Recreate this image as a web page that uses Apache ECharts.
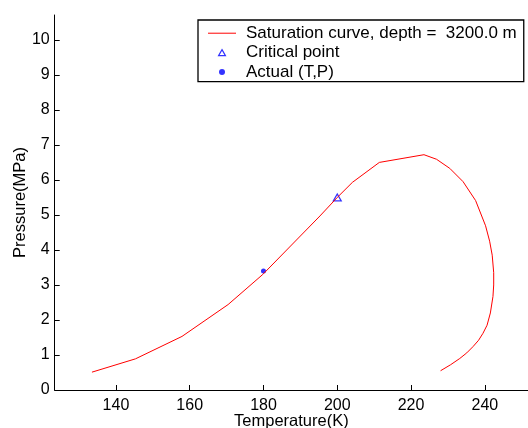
<!DOCTYPE html>
<html>
<head>
<meta charset="utf-8">
<script src="https://cdn.jsdelivr.net/npm/echarts@6/dist/echarts.min.js"></script>
<style>
html,body{margin:0;padding:0;background:#fff;}
#chart{width:528px;height:428px;}
</style>
</head>
<body>
<div id="chart"></div>
<script>
// Saturation curve (temperature K, pressure MPa)
const curveT = [133.5,145.3,157.9,170.4,179.8,195.3,200.0,204.1,211.4,223.5,226.9,230.5,234.1,237.5,240.2,241.3,242.0,242.4,242.4,242.2,241.5,240.6,239.5,238.3,236.8,235.1,233.2,230.7,228.0];
const curveP = [0.51,0.89,1.53,2.44,3.30,4.97,5.50,5.93,6.50,6.72,6.59,6.33,5.95,5.41,4.69,4.25,3.85,3.35,3.00,2.67,2.20,1.85,1.62,1.42,1.24,1.06,0.90,0.72,0.55];
const criticalPoint = [200.0, 5.50];
const actualPoint = [180.0, 3.40];
const xTicks = [140,160,180,200,220,240];
const yTicks = [0,1,2,3,4,5,6,7,8,9,10];
const seriesNames = ['Saturation curve, depth =  3200.0 m','Critical point','Actual (T,P)'];

const FONT = 'Liberation Sans, Arial, Helvetica, sans-serif';
const chart = echarts.init(document.getElementById('chart'), null, {renderer:'canvas'});
const curveData = curveT.map((t,i)=>[t, curveP[i]]);

chart.setOption({
  animation:false,
  backgroundColor:'#fff',
  grid:{left:54.7, right:0, top:15, bottom:38, containLabel:false, outerBoundsMode:'none'},
  xAxis:{
    type:'value', min:123.4, max:251.7,
    name:'Temperature(K)', nameLocation:'middle', nameGap:22.5, nameMoveOverlap:false,
    nameTextStyle:{color:'#000', fontSize:16.5, fontFamily:FONT, verticalAlign:'top'},
    axisLine:{show:true, onZero:false, lineStyle:{color:'#000', width:1}},
    axisTick:{show:true, inside:true, length:5, customValues:xTicks, lineStyle:{color:'#000'}},
    axisLabel:{customValues:xTicks, color:'#000', fontSize:16, fontFamily:FONT, margin:8},
    splitLine:{show:false}
  },
  yAxis:{
    type:'value', min:0, max:10.71,
    name:'Pressure(MPa)', nameLocation:'middle', nameGap:26, nameMoveOverlap:false,
    nameTextStyle:{color:'#000', fontSize:16.5, fontFamily:FONT},
    axisLine:{show:true, onZero:false, lineStyle:{color:'#000', width:1}},
    axisTick:{show:true, inside:true, length:5, customValues:yTicks, lineStyle:{color:'#000'}},
    axisLabel:{customValues:yTicks, color:'#000', fontSize:16, fontFamily:FONT, margin:5},
    splitLine:{show:false}
  },
  legend:{
    orient:'vertical', left:198, top:20,
    backgroundColor:'#fff', borderColor:'#000', borderWidth:1.3,
    padding:[3.5,7,0,10], itemGap:0, itemWidth:28, itemHeight:6,
    symbolKeepAspect:true,
    textStyle:{color:'#000', fontSize:17, fontFamily:FONT, lineHeight:19.4, padding:[0,0,0,5]},
    data:[
      {name:seriesNames[0], icon:'path://M0 0 H28 V1 H0 Z', itemStyle:{color:'#ff0000', borderWidth:0}},
      {name:seriesNames[1], icon:'path://M4 0 L8 7 L0 7 Z', itemStyle:{color:'#fff', borderColor:'#0000ff', borderWidth:1.2}},
      {name:seriesNames[2], icon:'circle', itemStyle:{color:'#0000ff', borderWidth:0}}
    ]
  },
  series:[
    {name:seriesNames[0], type:'line', data:curveData, symbol:'none', smooth:false,
     lineStyle:{color:'#ff0000', width:1}, itemStyle:{color:'#ff0000'}},
    {name:seriesNames[1], type:'scatter', data:[criticalPoint], symbol:'triangle', symbolSize:[8,7],
     itemStyle:{color:'rgba(255,255,255,0)', borderColor:'#0000ff', borderWidth:1.2}},
    {name:seriesNames[2], type:'scatter', data:[actualPoint], symbol:'circle', symbolSize:5,
     itemStyle:{color:'#0000ff'}}
  ]
});
</script>
</body>
</html>
